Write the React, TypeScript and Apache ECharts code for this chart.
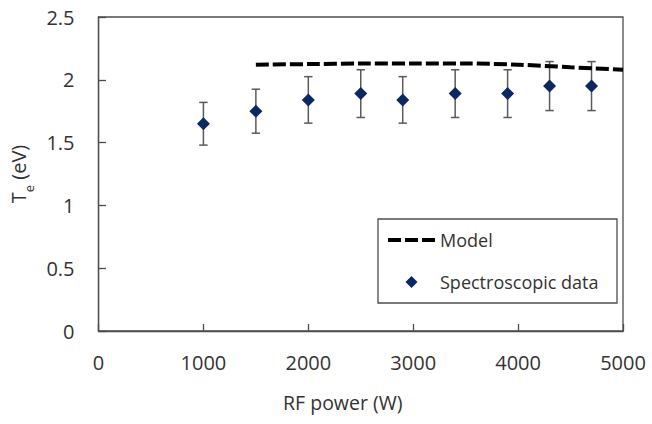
import React, { useEffect, useRef } from "react";
import * as echarts from "echarts";

const power = [1000, 1500, 2000, 2500, 2900, 3400, 3900, 4300, 4700];
const te = [1.65, 1.75, 1.84, 1.89, 1.84, 1.89, 1.89, 1.95, 1.95];
const teErr = [0.17, 0.175, 0.185, 0.19, 0.185, 0.19, 0.19, 0.195, 0.195];
const modelPower = [1500, 2000, 2500, 3000, 3500, 4000, 4500, 5000];
const modelTe = [2.12, 2.125, 2.13, 2.13, 2.13, 2.12, 2.1, 2.08];

const FONT = "'Open Sans', sans-serif";
const AXIS = "#4d4d4d";
const TEXT = "#333333";
const NAVY = "#0c2862";

export default function App() {
  const ref = useRef<HTMLDivElement>(null);
  useEffect(() => {
    if (!ref.current) return;
    const chart = echarts.init(ref.current, null, { renderer: "svg" });
    const scatterData = power.map((p, i) => [p, te[i]]);
    const errData = power.map((p, i) => [p, te[i] - teErr[i], te[i] + teErr[i]]);
    const modelData = modelPower.map((p, i) => [p, modelTe[i]]);
    chart.setOption({
      animation: false,
      backgroundColor: "#ffffff",
      textStyle: { fontFamily: FONT },
      grid: {
        left: 97,
        right: 29,
        top: 17,
        bottom: 93,
        show: true,
        borderColor: AXIS,
        borderWidth: 1.3,
      },
      legend: {
        orient: "vertical",
        left: 378,
        top: 219,
        data: [
          {
            name: "Model",
            icon: "path://M0,0h13v4h-13z M17,0h13v4h-13z M34,0h13v4h-13z",
            itemStyle: { color: "#000000" },
          },
          {
            name: "Spectroscopic data",
            icon: "path://M6,0L12,6L6,12L0,6Z",
            itemStyle: { color: NAVY, opacity: 1 },
          },
        ],
        itemWidth: 47,
        itemHeight: 12,
        itemGap: 22,
        padding: [11, 11, 11, 10],
        borderColor: AXIS,
        borderWidth: 1.3,
        backgroundColor: "#ffffff",
        textStyle: {
          fontFamily: FONT,
          fontSize: 18,
          color: TEXT,
          lineHeight: 20,
          width: 166,
        },
      },
      xAxis: {
        type: "value",
        min: 0,
        max: 5000,
        interval: 1000,
        name: "RF power (W)",
        nameLocation: "middle",
        nameGap: 61,
        nameTextStyle: {
          fontFamily: FONT,
          fontSize: 19.5,
          color: TEXT,
          padding: [0, 36, 0, 0],
        },
        axisLine: { show: true, lineStyle: { color: AXIS, width: 1.3 } },
        axisTick: { show: true, inside: true, length: 7, lineStyle: { color: AXIS, width: 1.3 } },
        axisLabel: {
          fontFamily: FONT,
          fontSize: 20,
          color: TEXT,
          margin: 21,
          formatter: (v: number) => String(v),
        },
        splitLine: { show: false },
      },
      yAxis: {
        type: "value",
        min: 0,
        max: 2.5,
        interval: 0.5,
        name: "{t|T}{s|e}{t| (eV)}",
        nameLocation: "middle",
        nameGap: 62,
        nameTextStyle: {
          rich: {
            t: { fontFamily: FONT, fontSize: 20, color: TEXT, lineHeight: 28 },
            s: { fontFamily: FONT, fontSize: 13, color: TEXT, padding: [22, 0, 0, 0] },
          },
        },
        axisLine: { show: true, lineStyle: { color: AXIS, width: 1.3 } },
        axisTick: { show: true, inside: true, length: 7.5, lineStyle: { color: AXIS, width: 1.3 } },
        axisLabel: { fontFamily: FONT, fontSize: 20, color: TEXT, margin: 24 },
        splitLine: { show: false },
      },
      series: [
        {
          name: "Model",
          type: "line",
          data: modelData,
          smooth: 0.3,
          showSymbol: false,
          symbol: "none",
          lineStyle: { color: "#000000", width: 4, type: [13, 4] },
          itemStyle: { color: "#000000" },
          z: 3,
        },
        {
          name: "errors",
          type: "custom",
          data: errData,
          encode: { x: 0, y: [1, 2] },
          z: 2,
          renderItem: (params: any, api: any) => {
            const x = api.value(0);
            const lo = api.coord([x, api.value(1)]);
            const hi = api.coord([x, api.value(2)]);
            const hw = 4.2;
            const st = { stroke: "#5a5a5a", lineWidth: 1.5 };
            return {
              type: "group",
              children: [
                { type: "line", shape: { x1: lo[0], y1: lo[1], x2: hi[0], y2: hi[1] }, style: st },
                { type: "line", shape: { x1: lo[0] - hw, y1: lo[1], x2: lo[0] + hw, y2: lo[1] }, style: st },
                { type: "line", shape: { x1: hi[0] - hw, y1: hi[1], x2: hi[0] + hw, y2: hi[1] }, style: st },
              ],
            };
          },
        },
        {
          name: "Spectroscopic data",
          type: "scatter",
          data: scatterData,
          symbol: "diamond",
          symbolSize: 13,
          itemStyle: { color: NAVY, opacity: 1 },
          z: 4,
        },
      ],
    });
    return () => chart.dispose();
  }, []);
  return (
    <div
      ref={ref}
      style={{ position: "fixed", left: 0, top: 0, width: 652, height: 424, background: "#fff" }}
    />
  );
}
